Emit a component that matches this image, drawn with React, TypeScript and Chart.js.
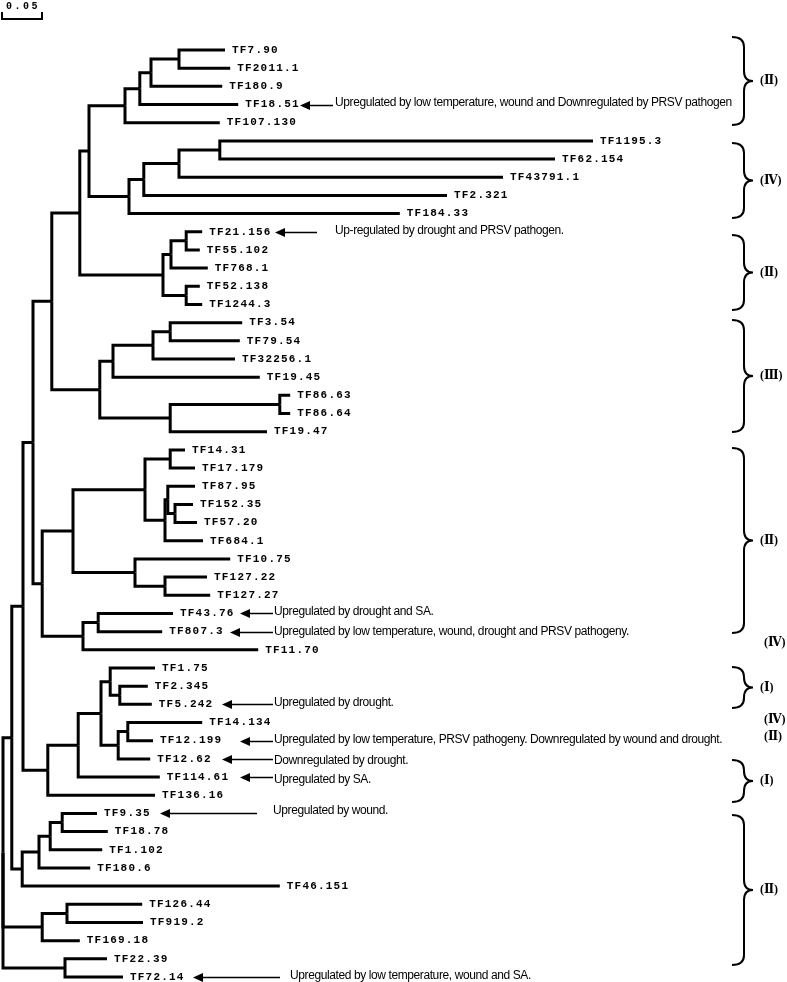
import React, { useEffect, useRef } from "react";
import { Chart, registerables } from "chart.js";

Chart.register(...registerables);

// ---- Leaves (top to bottom) ----
const leafNames = [
  "TF7.90", "TF2011.1", "TF180.9", "TF18.51", "TF107.130",
  "TF1195.3", "TF62.154", "TF43791.1", "TF2.321", "TF184.33",
  "TF21.156", "TF55.102", "TF768.1", "TF52.138", "TF1244.3",
  "TF3.54", "TF79.54", "TF32256.1", "TF19.45", "TF86.63", "TF86.64", "TF19.47",
  "TF14.31", "TF17.179", "TF87.95", "TF152.35", "TF57.20", "TF684.1",
  "TF10.75", "TF127.22", "TF127.27", "TF43.76", "TF807.3", "TF11.70",
  "TF1.75", "TF2.345", "TF5.242", "TF14.134", "TF12.199", "TF12.62",
  "TF114.61", "TF136.16", "TF9.35", "TF18.78", "TF1.102", "TF180.6",
  "TF46.151", "TF126.44", "TF919.2", "TF169.18", "TF22.39", "TF72.14",
];

// distance of each leaf from the root (substitutions per site)
const leafDepth = [
  0.2775, 0.284, 0.274, 0.294, 0.271,
  0.7375, 0.69, 0.625, 0.555, 0.496,
  0.249, 0.246, 0.256, 0.246, 0.249,
  0.299, 0.296, 0.29, 0.321, 0.359, 0.359, 0.33,
  0.2275, 0.24, 0.24, 0.2375, 0.2425, 0.25,
  0.284, 0.255, 0.259, 0.2125, 0.199, 0.319,
  0.19, 0.181, 0.186, 0.249, 0.1875, 0.184,
  0.196, 0.19, 0.1175, 0.131, 0.124, 0.109,
  0.346, 0.174, 0.175, 0.096, 0.13, 0.15,
];

// internal node each leaf hangs from
const leafParent = [
  10, 10, 9, 8, 7,
  14, 14, 13, 12, 11,
  17, 17, 16, 18, 18,
  22, 22, 21, 20, 24, 24, 23,
  28, 28, 30, 31, 31, 29,
  32, 33, 33, 35, 35, 34,
  39, 40, 40, 42, 42, 41,
  37, 36, 46, 46, 45, 44,
  43, 48, 48, 47, 49, 49,
];

// ---- Internal nodes ----
const nodeDepth = [
  0, 0.011, 0.025, 0.0375, 0.061, 0.096, 0.1075, 0.1525, 0.171, 0.185,
  0.22, 0.1575, 0.176, 0.22, 0.271, 0.2, 0.21, 0.229, 0.229, 0.121,
  0.1375, 0.1875, 0.209, 0.209, 0.346, 0.049, 0.0875, 0.1775, 0.209, 0.2025,
  0.206, 0.215, 0.165, 0.2025, 0.1, 0.119, 0.056, 0.094, 0.1225, 0.134,
  0.146, 0.144, 0.156, 0.024, 0.045, 0.059, 0.074, 0.049, 0.08, 0.0775,
];
const nodeParent = [
  -1, 0, 1, 2, 3, 4, 5, 6, 7, 8,
  9, 6, 11, 12, 13, 5, 15, 16, 15, 4,
  19, 20, 21, 19, 23, 3, 25, 26, 27, 27,
  29, 30, 26, 32, 25, 34, 2, 36, 37, 38,
  39, 38, 41, 1, 43, 44, 45, 0, 47, 0,
];

// ---- Annotations ----
const noteLeaf = ["TF18.51", "TF21.156", "TF43.76", "TF807.3", "TF5.242", "TF12.199", "TF12.62", "TF114.61", "TF9.35", "TF72.14"];
const noteText = [
  "Upregulated by low temperature, wound and Downregulated by PRSV pathogen",
  "Up-regulated by drought and PRSV pathogen.",
  "Upregulated by drought and SA.",
  "Upregulated by low temperature, wound, drought and PRSV pathogeny.",
  "Upregulated by drought.",
  "Upregulated by low temperature, PRSV pathogeny. Downregulated by wound and drought.",
  "Downregulated by drought.",
  "Upregulated by SA.",
  "Upregulated by wound.",
  "Upregulated by low temperature, wound and SA.",
];

// ---- Clade groups (leaf-index ranges) ----
const cladeLabel = ["(Ⅱ)", "(Ⅳ)", "(Ⅱ)", "(Ⅲ)", "(Ⅱ)", "(Ⅳ)", "(Ⅰ)", "(Ⅳ)", "(Ⅱ)", "(Ⅰ)", "(Ⅱ)"];
const cladeFrom = [-0.72, 5.12, 10.18, 14.85, 21.9, 32.6, 33.95, 36.86, 37.8, 39.06, 42.09];
const cladeTo = [4.13, 9.24, 14.3, 21.02, 32.07, 32.6, 36.2, 36.86, 37.8, 41.37, 50.34];

const scaleBarValue = 0.05;

// ---- layout (pixels) for annotation arrows: [head x, tail x, text x, text dy] ----
const noteLayout = [
  [300, 333, 335, -3],
  [275, 317, 335, -2],
  [240, 273, 274, -2],
  [230, 273, 274, -1],
  [222, 273, 274, -2],
  [240, 273, 274, -2],
  [222, 273, 274, 1],
  [240, 273, 274, 2],
  [160, 257, 273, -3],
  [193, 280, 290, -2],
];

function computeNodeY(): number[] {
  const n = nodeDepth.length;
  const leafKids: number[][] = Array.from({ length: n }, () => []);
  const nodeKids: number[][] = Array.from({ length: n }, () => []);
  leafParent.forEach((p, i) => leafKids[p].push(i));
  nodeParent.forEach((p, k) => { if (p >= 0) nodeKids[p].push(k); });
  const y: number[] = new Array(n).fill(NaN);
  const get = (k: number): number => {
    if (!isNaN(y[k])) return y[k];
    const vals = [...leafKids[k], ...nodeKids[k].map(get)];
    y[k] = (Math.min(...vals) + Math.max(...vals)) / 2;
    return y[k];
  };
  for (let k = 0; k < n; k++) get(k);
  return y;
}

const LEAF_FONT = "bold 11px 'Liberation Mono', 'DejaVu Sans Mono', monospace";

function drawBrace(ctx: CanvasRenderingContext2D, yTop: number, yBot: number) {
  const xl = 732, xm = 744, xt = 753;
  const tip = (yTop + yBot) / 2;
  const r = Math.min(10, (yBot - yTop) / 4);
  ctx.beginPath();
  ctx.moveTo(xl, yTop);
  ctx.quadraticCurveTo(xm, yTop, xm, yTop + r);
  ctx.lineTo(xm, tip - r);
  ctx.quadraticCurveTo(xm, tip, xt, tip);
  ctx.quadraticCurveTo(xm, tip, xm, tip + r);
  ctx.lineTo(xm, yBot - r);
  ctx.quadraticCurveTo(xm, yBot, xl, yBot);
  ctx.stroke();
}

const treeDecor = {
  id: "treeDecor",
  afterDatasetsDraw(chart: any) {
    const { ctx, scales } = chart;
    const xs = scales.x, ys = scales.y;
    ctx.save();
    ctx.fillStyle = "#000";
    ctx.strokeStyle = "#000";

    // leaf labels
    ctx.font = LEAF_FONT;
    (ctx as any).letterSpacing = "1.2px";
    ctx.textBaseline = "middle";
    ctx.textAlign = "left";
    leafNames.forEach((name, i) => {
      const x = xs.getPixelForValue(leafDepth[i]) + 7;
      const y = ys.getPixelForValue(i);
      ctx.fillText(name, x, y);
    });

    // scale bar
    const x0 = xs.getPixelForValue(0) - 1;
    const len = xs.getPixelForValue(scaleBarValue) - xs.getPixelForValue(0);
    ctx.font = "bold 10px 'Liberation Mono', monospace";
    (ctx as any).letterSpacing = "2.5px";
    ctx.fillText(scaleBarValue.toFixed(2), x0 + 4, 6);
    (ctx as any).letterSpacing = "0px";
    ctx.lineWidth = 2;
    ctx.beginPath();
    ctx.moveTo(x0, 12);
    ctx.lineTo(x0, 19);
    ctx.lineTo(x0 + len, 19);
    ctx.lineTo(x0 + len, 12);
    ctx.stroke();

    // annotations
    ctx.font = "12px 'Liberation Sans', Arial, sans-serif";
    (ctx as any).letterSpacing = "-0.4px";
    ctx.lineWidth = 1.5;
    noteLeaf.forEach((leaf, j) => {
      const i = leafNames.indexOf(leaf);
      const y = Math.round(ys.getPixelForValue(i)) + 0.5;
      const [head, tail, tx, dy] = noteLayout[j];
      ctx.beginPath();
      ctx.moveTo(tail, y);
      ctx.lineTo(head + 6, y);
      ctx.stroke();
      ctx.beginPath();
      ctx.moveTo(head, y);
      ctx.lineTo(head + 10, y - 4.5);
      ctx.lineTo(head + 10, y + 4.5);
      ctx.closePath();
      ctx.fill();
      ctx.fillText(noteText[j], tx, y + dy);
    });
    (ctx as any).letterSpacing = "0px";

    // clade braces + labels
    ctx.lineWidth = 2;
    ctx.font = "bold 12px 'Liberation Serif', 'DejaVu Serif', serif";
    cladeLabel.forEach((lab, k) => {
      const yt = ys.getPixelForValue(cladeFrom[k]);
      const yb = ys.getPixelForValue(cladeTo[k]);
      const hasBrace = cladeTo[k] - cladeFrom[k] > 0.01;
      if (hasBrace) drawBrace(ctx, yt, yb);
      ctx.fillText(lab, hasBrace ? 760 : 764, (yt + yb) / 2);
    });
    ctx.restore();
  },
};

export default function App() {
  const ref = useRef<HTMLCanvasElement | null>(null);
  useEffect(() => {
    const canvas = ref.current;
    if (!canvas) return;
    const nodeY = computeNodeY();
    const datasets: any[] = [];
    const elbow = (px: number, py: number, cx: number, cy: number) => ({
      data: [{ x: px, y: py }, { x: px, y: cy }, { x: cx, y: cy }],
      showLine: true,
      borderColor: "#000",
      borderWidth: 3,
      pointRadius: 0,
      pointHoverRadius: 0,
      borderJoinStyle: "miter",
      borderCapStyle: "butt",
      tension: 0,
      clip: false,
    });
    leafNames.forEach((_, i) => {
      const p = leafParent[i];
      datasets.push(elbow(nodeDepth[p], nodeY[p], leafDepth[i], i));
    });
    nodeParent.forEach((p, k) => {
      if (p < 0) return;
      datasets.push(elbow(nodeDepth[p], nodeY[p], nodeDepth[k], nodeY[k]));
    });

    const chart = new Chart(canvas, {
      type: "scatter",
      data: { datasets },
      options: {
        animation: false,
        responsive: false,
        devicePixelRatio: 1,
        layout: { padding: { left: 3, right: 0, top: 50, bottom: 5 } },
        scales: {
          x: { type: "linear", min: 0, max: 0.98, display: false },
          y: { type: "linear", min: 0, max: leafNames.length - 1, reverse: true, display: false },
        },
        plugins: { legend: { display: false }, tooltip: { enabled: false } },
        events: [],
      },
      plugins: [treeDecor],
    } as any);
    return () => chart.destroy();
  }, []);
  return (
    <div style={{ position: "absolute", left: 0, top: 0, width: 787, height: 982, background: "#fff" }}>
      <canvas ref={ref} width={787} height={982} style={{ display: "block" }} />
    </div>
  );
}
